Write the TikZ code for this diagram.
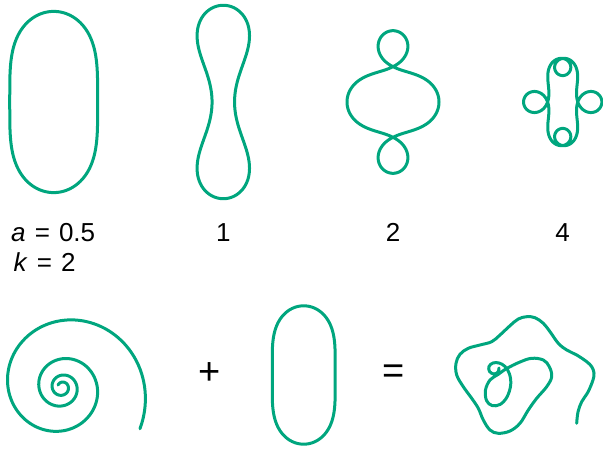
\documentclass[tikz,border=0pt]{standalone}
\usepackage{fontspec}
\setmainfont{Liberation Sans}
\definecolor{kgreen}{RGB}{0,166,126}
\tikzset{
  kline/.style={draw=kgreen, line width=3pt, line join=round, line cap=round},
  lbl/.style={inner sep=0pt, font=\fontsize{26}{30}\selectfont},
  sym/.style={inner sep=0pt, font=\fontsize{38}{40}\selectfont}
}
% tangent angle s + a sin(k s), unit steps, s from 0 to 2pi
\newcommand\makecurve[2]{%
  \xdef\cx{0}\xdef\cy{0}\xdef\kpath{(0,0)}%
  \foreach \i in {1,...,360}{%
    \pgfmathsetmacro\thv{\i-0.5+deg(#1*sin(#2*(\i-0.5)))}%
    \pgfmathsetmacro\nx{\cx+cos(\thv)}%
    \pgfmathsetmacro\ny{\cy+sin(\thv)}%
    \xdef\cx{\nx}\xdef\cy{\ny}%
    \xdef\kpath{\kpath -- (\cx,\cy)}%
    \ifnum\i=180 \xdef\mx{\cx}\xdef\my{\cy}\fi
  }%
}
\begin{document}
\begin{tikzpicture}[x=1pt, y=-1pt]
  \useasboundingbox (0,0) rectangle (603,449);
  % top row, k = 2
  \makecurve{0.5}{2}
  \draw[kline, shift={(53.7,102)}, scale=1.2566, shift={({-0.5*(\mx)},{-0.5*(\my)})}] \kpath -- cycle;
  \makecurve{1}{2}
  \draw[kline, shift={(223.3,102)}, scale=1.2566, shift={({-0.5*(\mx)},{-0.5*(\my)})}] \kpath -- cycle;
  \makecurve{2}{2}
  \draw[kline, shift={(393,102)}, scale=1.2566, shift={({-0.5*(\mx)},{-0.5*(\my)})}] \kpath -- cycle;
  \makecurve{4}{2}
  \draw[kline, shift={(562.7,102)}, scale=1.2566, shift={({-0.5*(\mx)},{-0.5*(\my)})}] \kpath -- cycle;
  \node[lbl, anchor=base west] (aval) at (11,241.7) {\textit{a}\hspace{0.35em}=\hspace{0.35em}0.5};
  \node[lbl, anchor=base west] (kval) at (13.5,271.7) {\textit{k}\hspace{0.35em}=\hspace{0.35em}2};
  \node[lbl, anchor=base] (aone) at (223.3,241.7) {1};
  \node[lbl, anchor=base] (atwo) at (393,241.7) {2};
  \node[lbl, anchor=base] (afour) at (562.7,241.7) {4};
  % bottom row
  \draw[kline] plot[domain=-870:388, samples=400, variable=\p]
    ({62+54*exp(0.0023719*(\p-180))*cos(\p)}, {387.3+54*exp(0.0023719*(\p-180))*sin(\p)});
  \node[sym] (plus) at (210,374) {+};
  \makecurve{0.54}{2}
  \draw[kline, shift={(303.7,375)}, scale=0.9495, shift={({-0.5*(\mx)},{-0.5*(\my)})}] \kpath -- cycle;
  \node[sym] (eq) at (394,373.7) {=};
  \draw[kline] plot[smooth, tension=0.6] coordinates {
    (576.7,423.3) (578,412) (581.7,401.7) (588,392) (593,380) (594,373)
    (591.7,366.7) (586.7,361.7) (576.7,355) (566.7,350) (558.3,343.3)
    (550,331.7) (543.3,323.3) (535,317.7) (526.7,316.7) (518.3,319)
    (510,325.7) (500,335) (491.7,341.7) (480,345) (468.3,348.3) (460,354.3)
    (456,363.3) (456.7,375) (463.3,386.7) (471.7,398.3) (478.3,408.3)
    (483.3,420) (490,430) (498.3,433.3) (510,431) (520,423.3) (528.3,410)
    (536.7,398.3) (546.7,386.7) (551.7,376.7) (549.3,366.7) (543.3,360)
    (531.7,358.3) (520,362) (506.7,368.5) (498,374.5) (490,380) (485.5,390)
    (486.5,400.5) (492,405.5) (500,404.5) (507,397) (510.7,385) (509.5,374)
    (505,366.5) (499,363) (493,363) (489,366.5) (489.5,371.5) (494,374)
    (498,372) (499,368)};
\end{tikzpicture}
\end{document}
